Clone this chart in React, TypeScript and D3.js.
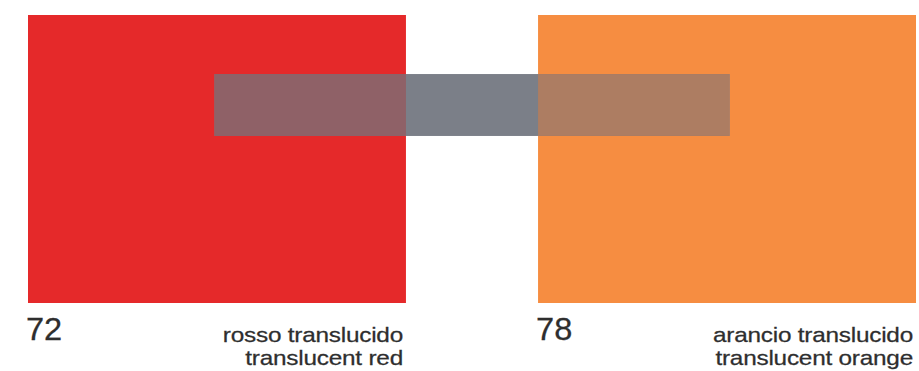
import React from "react";
import * as d3 from "d3";

const W = 919;
const H = 371;

const codes = ["72", "78"];
const namesIt = ["rosso translucido", "arancio translucido"];
const namesEn = ["translucent red", "translucent orange"];
const swatchColors = ["#e5292a", "#f68d41"];
const overlapColors = ["#8f6167", "#ad7d62"];
const barColor = "#7b7f88";
// grey bar extent on a 0–100 horizontal scale
const barExtent = [21, 79];

export default function App() {
  const band = d3.scaleBand<string>().domain(codes).range([28, 916]).paddingInner(0.259).paddingOuter(0);
  const x = d3.scaleLinear().domain([0, 100]).range([28, 916]);
  const y = d3.scaleLinear().domain([0, 1]).range([15, 303]);
  const barTop = y(0.205);
  const barBot = y(0.42);
  const bx0 = x(barExtent[0]);
  const bx1 = x(barExtent[1]);

  return (
    <svg width={W} height={H} style={{ position: "absolute", left: 0, top: 0, background: "#fff" }}>
      {codes.map((c, i) => {
        const x0 = band(c)!;
        const bw = band.bandwidth();
        return (
          <rect key={c} x={x0} y={y(0)} width={bw} height={y(1) - y(0)} fill={swatchColors[i]} />
        );
      })}
      <rect x={bx0} y={barTop} width={bx1 - bx0} height={barBot - barTop} fill={barColor} />
      {codes.map((c, i) => {
        const x0 = Math.max(band(c)!, bx0);
        const x1 = Math.min(band(c)! + band.bandwidth(), bx1);
        if (x1 <= x0) return null;
        return <rect key={"o" + c} x={x0} y={barTop} width={x1 - x0} height={barBot - barTop} fill={overlapColors[i]} />;
      })}
      {codes.map((c, i) => {
        const x0 = band(c)!;
        const right = x0 + band.bandwidth() - 3;
        return (
          <g key={"t" + c} fill="#2e2e2e" stroke="#2e2e2e" strokeWidth={0.25} fontFamily="'Liberation Sans', Arial, sans-serif">
            <text transform={`translate(${x0 - 2},340) scale(1.05,1)`} fontSize={31}>{c}</text>
            <text transform={`translate(${right},342) scale(1.16,1)`} fontSize={21} letterSpacing={-0.2} textAnchor="end">{namesIt[i]}</text>
            <text transform={`translate(${right},365) scale(1.16,1)`} fontSize={21} letterSpacing={-0.2} textAnchor="end">{namesEn[i]}</text>
          </g>
        );
      })}
    </svg>
  );
}
